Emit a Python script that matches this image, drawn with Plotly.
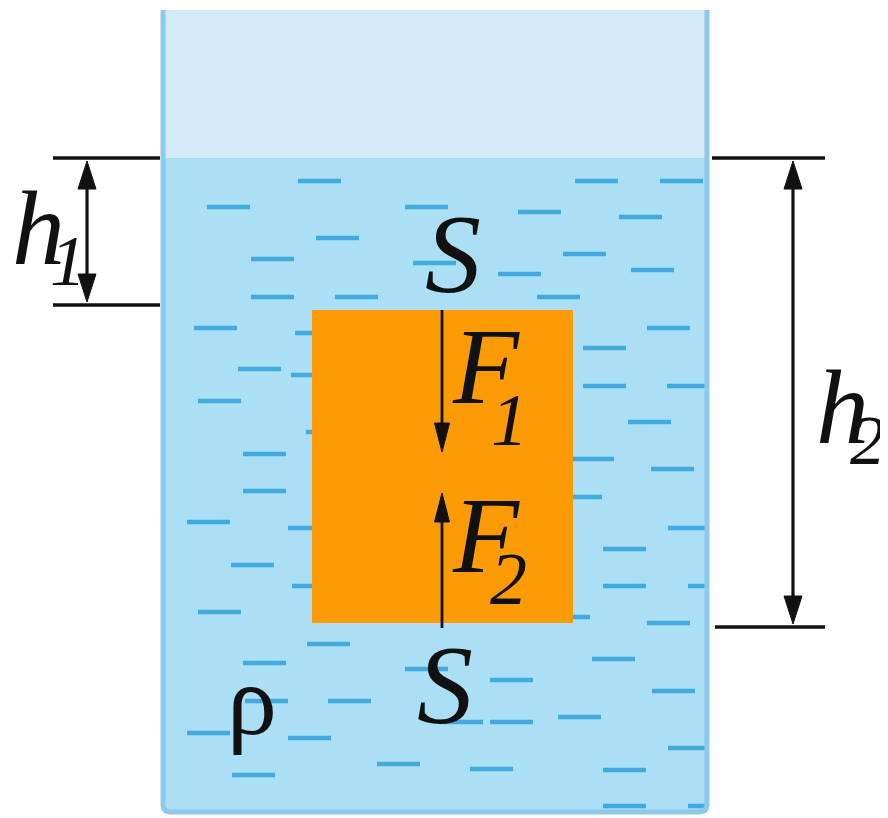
import plotly.graph_objects as go

# ---------------- data (diagram geometry, pixel units, y grows downward) -------------
W, H = 888, 818
PAGE_MARGIN = 8               # browser body margin around the plot div
VESSEL_LEFT, VESSEL_RIGHT = 163, 707
VESSEL_TOP, VESSEL_BOTTOM = 10, 812
WATER_LEVEL = 158
BLOCK_X = [312, 573]
BLOCK_Y = [310, 623]
FORCE_X = 442
F1_SPAN = [310, 452]          # downward force on the top face
F2_SPAN = [628, 493]          # upward force on the bottom face
H1_X, H1_SPAN, H1_LINE = 87, [158, 305], [53, 160]
H2_X, H2_SPAN, H2_LINE = 793, [158, 627], [712, 825]

# water dashes: left start x and y of each short dash
DASH_X = [298, 575, 660, 207, 405, 518, 619, 316, 563, 251, 413, 631, 498, 251, 335, 537,
          194, 295, 647, 583, 238, 291, 583, 667, 198, 628, 306, 243, 571, 651, 243, 559,
          187, 288, 668, 603, 231, 292, 603, 688, 198, 547, 647,
          307, 592, 243, 405, 490, 652, 245, 328, 558, 490, 440, 187, 288, 668, 377, 470,
          603, 232, 603, 688]
DASH_Y = [181, 181, 181, 207, 207, 212, 217, 238, 254, 259, 263, 270, 274, 297, 297, 297,
          328, 333, 328, 348, 369, 375, 386, 386, 401, 422, 432, 454, 459, 469, 491, 497,
          522, 528, 528, 549, 565, 586, 586, 586, 612, 617, 623,
          644, 659, 663, 669, 680, 691, 701, 701, 717, 722, 722, 733, 738, 748, 764, 769,
          770, 775, 806, 806]
DASH_LEN = 43

# labels: text, x, y, size, italic
LABELS = [
    ("S", 453, 254, 112, True),
    ("S", 445, 685, 112, True),
    ("F", 486, 366, 108, True),
    ("1", 509, 420, 74, True),
    ("F", 486, 535, 108, True),
    ("2", 508, 579, 74, True),
    ("h", 38, 228, 106, True),
    ("1", 68, 261, 72, True),
    ("h", 842, 407, 106, True),
    ("2", 867, 440, 70, True),
    ("ρ", 252, 700, 100, False),
]

# ---------------- colours ----------------
AIR = "#d3ebf8"
WATER = "#abdff5"
WALL = "#8ccaec"
DASH = "#41aae1"
BLOCK = "#fd9b06"
INK = "#111111"

fig = go.Figure()

# water dashes as one line trace
dx, dy = [], []
for x0, y0 in zip(DASH_X, DASH_Y):
    dx += [max(x0, VESSEL_LEFT + 3), min(x0 + DASH_LEN, VESSEL_RIGHT - 2), None]
    dy += [y0, y0, None]
fig.add_trace(go.Scatter(x=dx, y=dy, mode="lines", line=dict(color=DASH, width=4.5),
                         hoverinfo="skip", showlegend=False))

shapes = []
# air and water inside the vessel
shapes.append(dict(type="rect", x0=VESSEL_LEFT, x1=VESSEL_RIGHT, y0=VESSEL_TOP, y1=WATER_LEVEL,
                   fillcolor=AIR, line=dict(width=0), layer="below"))
r = 8
shapes.append(dict(type="path", layer="below", fillcolor=WATER, line=dict(width=0),
                   path=(f"M{VESSEL_LEFT},{WATER_LEVEL} L{VESSEL_RIGHT},{WATER_LEVEL} "
                         f"L{VESSEL_RIGHT},{VESSEL_BOTTOM - r} Q{VESSEL_RIGHT},{VESSEL_BOTTOM} {VESSEL_RIGHT - r},{VESSEL_BOTTOM} "
                         f"L{VESSEL_LEFT + r},{VESSEL_BOTTOM} Q{VESSEL_LEFT},{VESSEL_BOTTOM} {VESSEL_LEFT},{VESSEL_BOTTOM - r} Z")))
# block
shapes.append(dict(type="rect", x0=BLOCK_X[0], x1=BLOCK_X[1], y0=BLOCK_Y[0], y1=BLOCK_Y[1],
                   fillcolor=BLOCK, line=dict(width=0), layer="above"))
# vessel walls
shapes.append(dict(type="path", layer="above", line=dict(color=WALL, width=5),
                   path=(f"M{VESSEL_LEFT},{VESSEL_TOP} L{VESSEL_LEFT},{VESSEL_BOTTOM - r} "
                         f"Q{VESSEL_LEFT},{VESSEL_BOTTOM} {VESSEL_LEFT + r},{VESSEL_BOTTOM} "
                         f"L{VESSEL_RIGHT - r},{VESSEL_BOTTOM} Q{VESSEL_RIGHT},{VESSEL_BOTTOM} {VESSEL_RIGHT},{VESSEL_BOTTOM - r} "
                         f"L{VESSEL_RIGHT},{VESSEL_TOP}")))


def head(x, tip, direction, length=28, half=9):
    base = tip - direction * length
    return dict(type="path", layer="above", fillcolor=INK, line=dict(color=INK, width=1),
                path=f"M{x},{tip} L{x - half},{base} L{x + half},{base} Z")


def seg(x0, y0, x1, y1, w=3.2):
    return dict(type="line", layer="above", x0=x0, y0=y0, x1=x1, y1=y1,
                line=dict(color=INK, width=w))


# h1 dimension
shapes += [seg(H1_LINE[0], H1_SPAN[0], H1_LINE[1], H1_SPAN[0], 3.5),
           seg(H1_LINE[0], H1_SPAN[1], H1_LINE[1], H1_SPAN[1], 3.5),
           seg(H1_X, H1_SPAN[0] + 20, H1_X, H1_SPAN[1] - 20),
           head(H1_X, H1_SPAN[0] + 3, -1), head(H1_X, H1_SPAN[1] - 3, 1)]
# h2 dimension
shapes += [seg(H2_LINE[0], H2_SPAN[0], H2_LINE[1], H2_SPAN[0], 3.5),
           seg(H2_LINE[0] + 3, H2_SPAN[1], H2_LINE[1], H2_SPAN[1], 3.5),
           seg(H2_X, H2_SPAN[0] + 20, H2_X, H2_SPAN[1] - 20),
           head(H2_X, H2_SPAN[0] + 3, -1), head(H2_X, H2_SPAN[1] - 3, 1)]
# forces
shapes += [seg(FORCE_X, F1_SPAN[0], FORCE_X, F1_SPAN[1] - 20, 2.8),
           head(FORCE_X, F1_SPAN[1], 1, 29, 7.5),
           seg(FORCE_X, F2_SPAN[0], FORCE_X, F2_SPAN[1] + 20, 2.8),
           head(FORCE_X, F2_SPAN[1], -1, 29, 7.5)]

annotations = []
for text, x, y, size, italic in LABELS:
    annotations.append(dict(x=x, y=y, xref="x", yref="y", text=f"<i>{text}</i>" if italic else text,
                            showarrow=False, xanchor="center", yanchor="middle",
                            font=dict(family="Liberation Serif", size=size, color=INK)))

# the plot div sits inside the page's default body margin, so the axes cover
# exactly the window pixels that the div occupies
fig.update_layout(
    width=W - PAGE_MARGIN, height=H - PAGE_MARGIN, margin=dict(l=0, r=0, t=0, b=0),
    paper_bgcolor="white", plot_bgcolor="white",
    xaxis=dict(range=[PAGE_MARGIN, W], visible=False, fixedrange=True),
    yaxis=dict(range=[H, PAGE_MARGIN], visible=False, fixedrange=True),
    shapes=shapes, annotations=annotations, showlegend=False,
)
fig.write_html("out.html")
